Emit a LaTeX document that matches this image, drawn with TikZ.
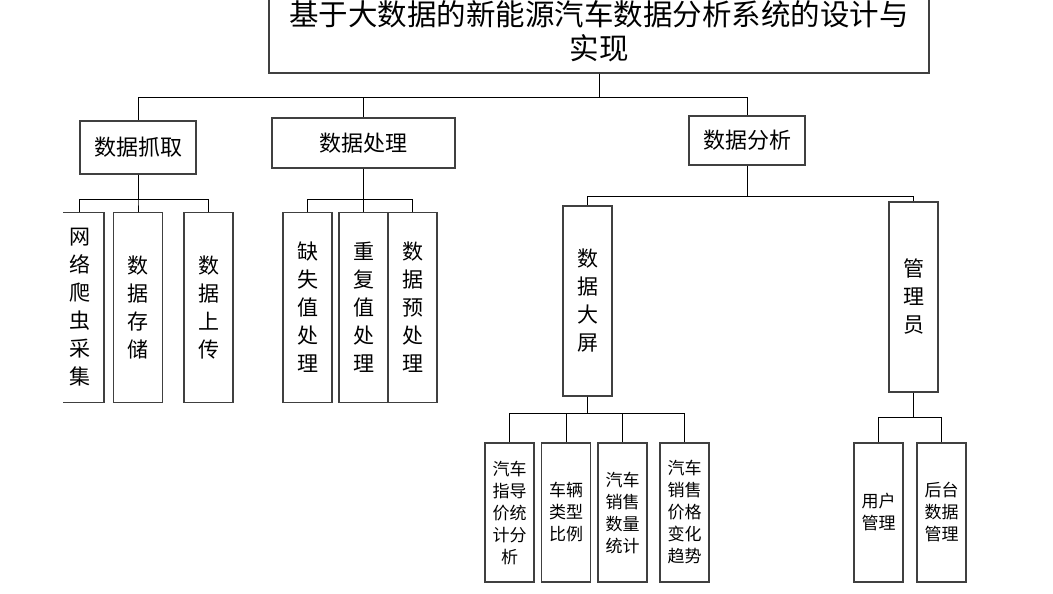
\documentclass[tikz,border=0pt]{standalone}
\usepackage{fontspec}
\setmainfont{Noto Sans CJK SC}
\usepackage{tikz}
\usetikzlibrary{positioning}
\tikzset{every picture/.style={line width=1pt}}
\tikzset{box/.style={draw=black!75,line width=1.2pt,inner sep=0pt,align=center},
topbox/.style={box,minimum width=660pt,minimum height=84pt,font=\fontsize{29.5}{34}\selectfont},
midbox/.style={box,minimum height=50pt,font=\fontsize{22}{26}\selectfont},
tallbox/.style={box,minimum width=49pt,minimum height=190pt,font=\fontsize{21}{28}\selectfont},
leafbox/.style={box,minimum width=49pt,minimum height=139pt,font=\fontsize{17}{22}\selectfont}}

\begin{document}
\begin{tikzpicture}[x=1pt,y=-1pt]
\useasboundingbox (0,0) rectangle (1053,594);
\clip (63,0) rectangle (1053,594);
\node (root) at (599,31) [topbox] {基于大数据的新能源汽车数据分析系统的设计与\\实现};
\node (g1) at (138,147.5) [midbox,minimum width=116pt,minimum height=53pt] {数据抓取};
\node (g2) at (363.5,143) [midbox,minimum width=183pt] {数据处理};
\node (g3) at (747,140.5) [midbox,minimum width=116pt,minimum height=49pt] {数据分析};
\foreach \n / \x / \t in {a1/79.5/{网\\络\\爬\\虫\\采\\集},a2/138/{数\\据\\存\\储},a3/208.5/{数\\据\\上\\传},b1/307.5/{缺\\失\\值\\处\\理},b2/363.5/{重\\复\\值\\处\\理},b3/412.5/{数\\据\\预\\处\\理}} {
\node (\n) at (\x,307.5) [tallbox] {\t};
}
\node (c1) at (587.5,301) [tallbox] {数\\据\\大\\屏};
\node (c2) at (913.5,297) [tallbox] {管\\理\\员};
\foreach \n / \x / \t in {d1/509.5/{汽车\\指导\\价统\\计分\\析},d2/566/{车辆\\类型\\比例},d3/622.5/{汽车\\销售\\数量\\统计},d4/684.5/{汽车\\销售\\价格\\变化\\趋势},e1/878.5/{用户\\管理},e2/941.5/{后台\\数据\\管理}} {
\node (\n) at (\x,512.5) [leafbox] {\t};
}
% connectors
\foreach \n in {g1,g2,g3} {
\draw (root.south) -- ++(0,24) -| (\n.north);
}
\foreach \n in {a1,a2,a3} {
\draw (g1.south) -- ++(0,25) -| (\n.north);
}
\foreach \n in {b1,b2,b3} {
\draw (g2.south) -- ++(0,31) -| (\n.north);
}
\foreach \n in {c1,c2} {
\draw (g3.south) -- ++(0,31) -| (\n.north);
}
\foreach \n in {d1,d2,d3,d4} {
\draw (c1.south) -- ++(0,17) -| (\n.north);
}
\foreach \n in {e1,e2} {
\draw (c2.south) -- ++(0,25) -| (\n.north);
}
\end{tikzpicture}
\end{document}
